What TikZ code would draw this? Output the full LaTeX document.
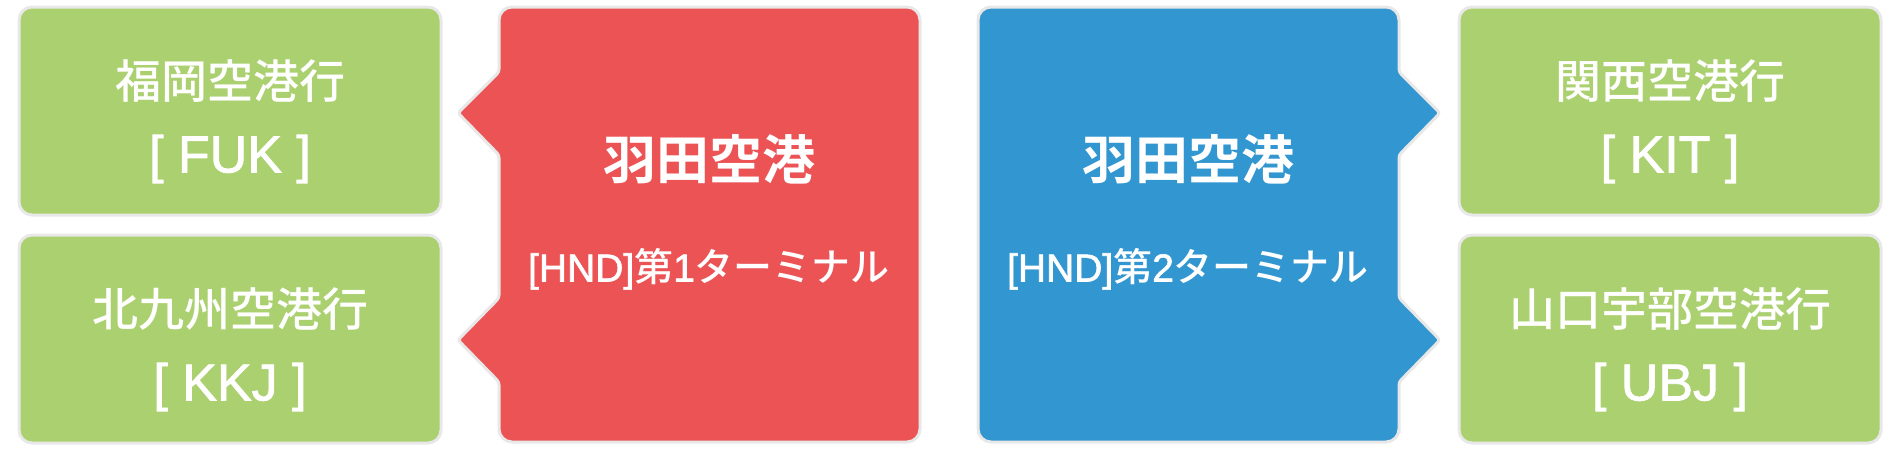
\documentclass[tikz,border=0pt]{standalone}
\usepackage{fontspec}
\setmainfont{Liberation Sans}
\newfontfamily\latfont{Liberation Sans}[FakeBold=1.6]
\newfontfamily\jpfont{Noto Sans CJK JP}[UprightFont={* Medium}, BoldFont={* Bold}]
\definecolor{destgreen}{HTML}{ABD06F}
\definecolor{termred}{HTML}{EC5355}
\definecolor{termblue}{HTML}{3296D0}
\definecolor{rimgray}{HTML}{E8E8E8}
\begin{document}
\begin{tikzpicture}
[x=0.5pt, y=-0.5pt,
 destbox/.style={draw=rimgray, line width=1.5pt, fill=destgreen, rounded corners=6.5pt, minimum width=211pt, minimum height=104pt, inner sep=0pt},
 termbox/.style={draw=rimgray, line width=1.5pt},
 cityname/.style={text=white, inner sep=0pt, font=\jpfont\fontsize{23}{27}\selectfont},
 citycode/.style={text=white, inner sep=0pt, font=\latfont\fontsize{26}{30}\selectfont},
 termname/.style={text=white, inner sep=0pt, font=\jpfont\bfseries\fontsize{26.5}{31}\selectfont},
 termsub/.style={text=white, inner sep=0pt, font=\latfont\fontsize{19.5}{23}\selectfont}]
\useasboundingbox (0,0) rectangle (1900,450);
\node [destbox] (fuk) at (230,111) {};
\node [destbox] (kkj) at (230,339) {};
\node [destbox] (kix) at (1670,111) {};
\node [destbox] (ubj) at (1670,339) {};
\draw [termbox, fill=termred, rounded corners=6.5pt] (709,7) -- (920,7) -- (920,442) -- (499,442) -- (499,420) [rounded corners=1.5pt] -- (499,382) -- (458,340) -- (499,298) -- (499,155) -- (458,113) -- (499,72) -- (499,30) [rounded corners=6.5pt] -- (499,7) -- cycle;
\draw [termbox, fill=termblue, rounded corners=6.5pt] (1188,7) -- (978,7) -- (978,442) -- (1399,442) -- (1399,420) [rounded corners=1.5pt] -- (1399,382) -- (1440,340) -- (1399,298) -- (1399,155) -- (1440,113) -- (1399,72) -- (1399,30) [rounded corners=6.5pt] -- (1399,7) -- cycle;
\node [cityname] (fukname) at (230,81) {福岡空港行};
\node [citycode] (fukcode) at (230,159) {[ FUK ]};
\node [cityname] (kkjname) at (230,309) {北九州空港行};
\node [citycode] (kkjcode) at (230,387) {[ KKJ ]};
\node [cityname] (kixname) at (1670,81) {関西空港行};
\node [citycode] (kixcode) at (1670,159) {[ KIT ]};
\node [cityname] (ubjname) at (1670,309) {山口宇部空港行};
\node [citycode] (ubjcode) at (1670,387) {[ UBJ ]};
\node [termname] (t1name) at (709,159) {羽田空港};
\node [termsub] (t1sub) at (709,269) {[HND]{\jpfont 第}1{\jpfont ターミナル}};
\node [termname] (t2name) at (1188,159) {羽田空港};
\node [termsub] (t2sub) at (1188,269) {[HND]{\jpfont 第}2{\jpfont ターミナル}};
\end{tikzpicture}
\end{document}
